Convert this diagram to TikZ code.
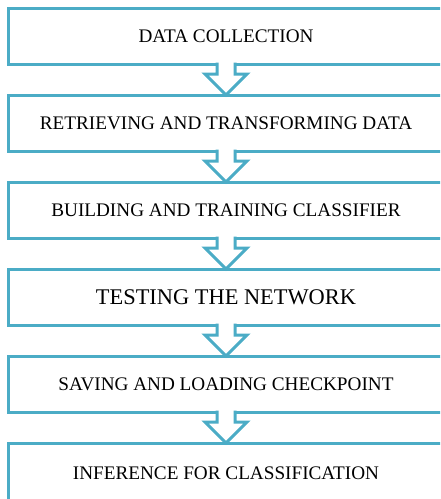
\documentclass[tikz,border=0pt]{standalone}
\usepackage{fontspec}
\setmainfont{Liberation Serif}
\definecolor{stageblue}{RGB}{75,172,198}
\tikzset{
  stage/.style={draw=stageblue, line width=3pt, rectangle, minimum width=436pt,
    minimum height=56pt, inner sep=0pt, outer sep=0pt,
    font=\fontsize{19.2}{22}\selectfont},
  hollowarrow/.style={draw=stageblue, fill=white, line width=3pt, line join=miter,
    to path={([shift={(-9pt,1.5pt)}]\tikztostart.south)
      -- ([shift={(-9pt,-10pt)}]\tikztostart.south)
      -- ([shift={(-21pt,-10pt)}]\tikztostart.south)
      -- (\tikztotarget.north)
      -- ([shift={(21pt,-10pt)}]\tikztostart.south)
      -- ([shift={(9pt,-10pt)}]\tikztostart.south)
      -- ([shift={(9pt,1.5pt)}]\tikztostart.south)}}
}
\begin{document}
\begin{tikzpicture}[x=1pt,y=-1pt]
    \useasboundingbox (0,0) rectangle (440,499);
    \clip (0,0) rectangle (440,499);
    % the six stages, top to bottom
    \node [stage] (collect) at (226,36) {DATA COLLECTION};
    \node [stage] (retrieve) at (226,123) {RETRIEVING AND TRANSFORMING DATA};
    \node [stage] (build) at (226,210) {BUILDING AND TRAINING CLASSIFIER};
    \node [stage,font=\fontsize{22.4}{26}\selectfont] (test) at (226,297) {TESTING THE NETWORK};
    \node [stage] (save) at (226,384) {SAVING AND LOADING CHECKPOINT};
    \node [stage,minimum height=60pt] (infer) at (226,473) {INFERENCE FOR CLASSIFICATION};
    % hollow arrows cut into the bottom edges
    \draw [hollowarrow] (collect) to (retrieve);
    \draw [hollowarrow] (retrieve) to (build);
    \draw [hollowarrow] (build) to (test);
    \draw [hollowarrow] (test) to (save);
    \draw [hollowarrow] (save) to (infer);
\end{tikzpicture}
\end{document}
